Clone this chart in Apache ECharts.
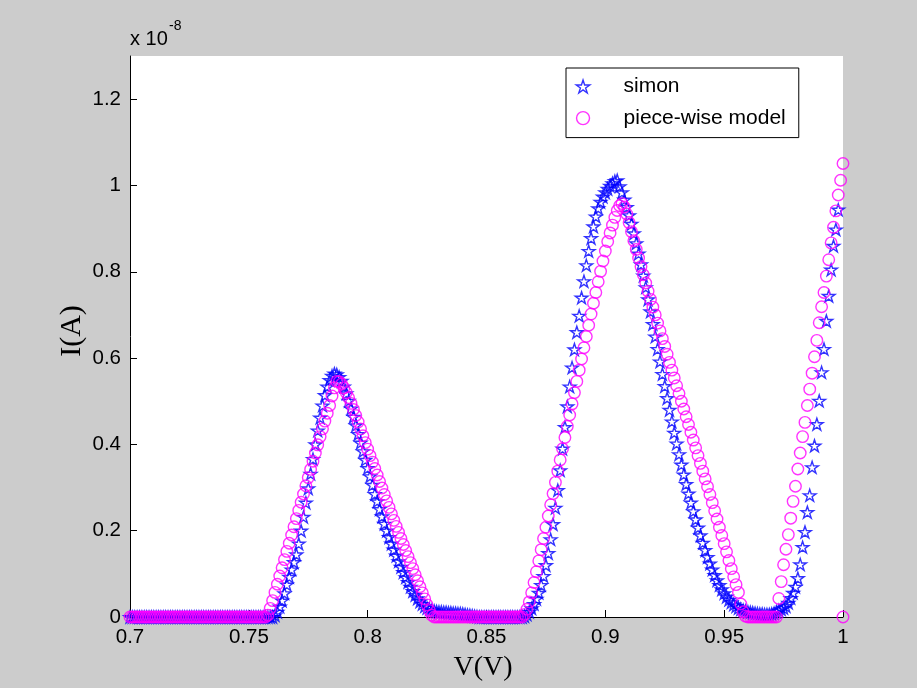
<!DOCTYPE html>
<html><head><meta charset="utf-8">
<script src="https://cdn.jsdelivr.net/npm/echarts@6/dist/echarts.min.js"></script>
<style>html,body{margin:0;padding:0;background:#cccccc}#c{width:917px;height:688px}</style>
</head><body><div id="c"></div>
<script>
// Voltage sample points (V)
const xValues = [
0.700,0.701,0.702,0.703,0.704,0.705,0.706,0.707,0.708,0.709,
0.710,0.711,0.712,0.713,0.714,0.715,0.716,0.717,0.718,0.719,
0.720,0.721,0.722,0.723,0.724,0.725,0.726,0.727,0.728,0.729,
0.730,0.731,0.732,0.733,0.734,0.735,0.736,0.737,0.738,0.739,
0.740,0.741,0.742,0.743,0.744,0.745,0.746,0.747,0.748,0.749,
0.750,0.751,0.752,0.753,0.754,0.755,0.756,0.757,0.758,0.759,
0.760,0.761,0.762,0.763,0.764,0.765,0.766,0.767,0.768,0.769,
0.770,0.771,0.772,0.773,0.774,0.775,0.776,0.777,0.778,0.779,
0.780,0.781,0.782,0.783,0.784,0.785,0.786,0.787,0.788,0.789,
0.790,0.791,0.792,0.793,0.794,0.795,0.796,0.797,0.798,0.799,
0.800,0.801,0.802,0.803,0.804,0.805,0.806,0.807,0.808,0.809,
0.810,0.811,0.812,0.813,0.814,0.815,0.816,0.817,0.818,0.819,
0.820,0.821,0.822,0.823,0.824,0.825,0.826,0.827,0.828,0.829,
0.830,0.831,0.832,0.833,0.834,0.835,0.836,0.837,0.838,0.839,
0.840,0.841,0.842,0.843,0.844,0.845,0.846,0.847,0.848,0.849,
0.850,0.851,0.852,0.853,0.854,0.855,0.856,0.857,0.858,0.859,
0.860,0.861,0.862,0.863,0.864,0.865,0.866,0.867,0.868,0.869,
0.870,0.871,0.872,0.873,0.874,0.875,0.876,0.877,0.878,0.879,
0.880,0.881,0.882,0.883,0.884,0.885,0.886,0.887,0.888,0.889,
0.890,0.891,0.892,0.893,0.894,0.895,0.896,0.897,0.898,0.899,
0.900,0.901,0.902,0.903,0.904,0.905,0.906,0.907,0.908,0.909,
0.910,0.911,0.912,0.913,0.914,0.915,0.916,0.917,0.918,0.919,
0.920,0.921,0.922,0.923,0.924,0.925,0.926,0.927,0.928,0.929,
0.930,0.931,0.932,0.933,0.934,0.935,0.936,0.937,0.938,0.939,
0.940,0.941,0.942,0.943,0.944,0.945,0.946,0.947,0.948,0.949,
0.950,0.951,0.952,0.953,0.954,0.955,0.956,0.957,0.958,0.959,
0.960,0.961,0.962,0.963,0.964,0.965,0.966,0.967,0.968,0.969,
0.970,0.971,0.972,0.973,0.974,0.975,0.976,0.977,0.978,0.979,
0.980,0.981,0.982,0.983,0.984,0.985,0.986,0.987,0.988,0.989,
0.990,0.991,0.992,0.993,0.994,0.995,0.996,0.997,0.998,0.999,
1.000
];

// "simon" current, in units of 1e-8 A (x = 0.700 ... 0.998)
const simonI = [
0,0,0,0,0,0,0,0,0,0,
0,0,0,0,0,0,0,0,0,0,
0,0,0,0,0,0,0,0,0,0,
0,0,0,0,0,0,0,0,0,0,
0,0,0,0,0,0,0,0,0,0,
0,0,0,0,0,0,0,0,0,0,
0,0.004,0.012,0.024,0.038,0.055,0.075,0.093,0.110,0.127,
0.145,0.170,0.200,0.232,0.265,0.298,0.332,0.366,0.400,0.432,
0.462,0.490,0.514,0.534,0.549,0.559,0.564,0.562,0.556,0.547,
0.534,0.518,0.501,0.483,0.464,0.444,0.424,0.404,0.384,0.364,
0.345,0.326,0.306,0.285,0.268,0.250,0.233,0.216,0.200,0.185,
0.170,0.156,0.142,0.129,0.116,0.104,0.092,0.081,0.070,0.060,
0.051,0.043,0.036,0.030,0.025,0.021,0.018,0.016,0.014,0.013,
0.012,0.012,0.011,0.011,0.010,0.010,0.009,0.009,0.008,0.008,
0.007,0.006,0.005,0.004,0.003,0.002,0.001,0,0,0,
0,0,0,0,0,0,0,0,0,0,
0,0,0,0,0,0,0.002,0.006,0.012,0.020,
0.030,0.042,0.056,0.074,0.095,0.120,0.148,0.180,0.215,0.253,
0.294,0.340,0.390,0.440,0.488,0.534,0.578,0.620,0.660,0.698,
0.740,0.778,0.815,0.848,0.878,0.905,0.928,0.947,0.962,0.974,
0.984,0.992,0.999,1.005,1.010,1.012,0.998,0.984,0.967,0.950,
0.931,0.911,0.889,0.866,0.842,0.817,0.791,0.764,0.736,0.708,
0.679,0.650,0.621,0.592,0.563,0.535,0.507,0.480,0.453,0.427,
0.402,0.377,0.353,0.330,0.308,0.286,0.265,0.245,0.226,0.207,
0.189,0.172,0.155,0.139,0.124,0.110,0.097,0.085,0.074,0.064,
0.055,0.047,0.040,0.034,0.029,0.025,0.021,0.018,0.016,0.014,
0.012,0.011,0.010,0.009,0.008,0.007,0.007,0.006,0.006,0.006,
0.007,0.009,0.012,0.015,0.018,0.021,0.025,0.033,0.044,0.056,
0.070,0.090,0.122,0.162,0.197,0.243,0.282,0.347,0.397,0.447,
0.501,0.567,0.621,0.686,0.744,0.805,0.860,0.898,0.944
];

// piece-wise model current, in units of 1e-8 A (x = 0.700 ... 1.000)
const modelI = [
0,0,0,0,0,0,0,0,0,0,
0,0,0,0,0,0,0,0,0,0,
0,0,0,0,0,0,0,0,0,0,
0,0,0,0,0,0,0,0,0,0,
0,0,0,0,0,0,0,0,0,0,
0,0,0,0,0,0,0,0,0.004,0.020,
0.038,0.057,0.076,0.095,0.114,0.133,0.152,0.171,0.190,0.209,
0.228,0.247,0.266,0.285,0.304,0.323,0.342,0.361,0.380,0.399,
0.418,0.436,0.454,0.472,0.490,0.512,0.531,0.546,0.545,0.540,
0.531,0.520,0.508,0.495,0.481,0.467,0.452,0.436,0.420,0.404,
0.389,0.374,0.359,0.344,0.329,0.314,0.299,0.284,0.269,0.254,
0.239,0.224,0.210,0.196,0.182,0.168,0.154,0.140,0.126,0.112,
0.098,0.084,0.070,0.056,0.042,0.028,0.015,0.004,0,0,
0,0,0,0,0,0,0,0,0,0,
0,0,0,0,0,0,0,0,0,0,
0,0,0,0,0,0,0,0,0,0,
0,0,0,0,0,0,0.006,0.018,0.035,0.056,
0.080,0.105,0.130,0.156,0.182,0.208,0.234,0.260,0.286,0.312,
0.338,0.364,0.390,0.416,0.442,0.468,0.494,0.520,0.546,0.572,
0.598,0.624,0.650,0.676,0.702,0.727,0.752,0.777,0.801,0.825,
0.848,0.870,0.890,0.908,0.926,0.942,0.953,0.958,0.950,0.934,
0.914,0.893,0.872,0.852,0.832,0.812,0.793,0.774,0.755,0.736,
0.718,0.700,0.681,0.663,0.645,0.627,0.609,0.590,0.572,0.554,
0.536,0.518,0.500,0.482,0.464,0.446,0.428,0.410,0.392,0.374,
0.356,0.338,0.320,0.302,0.284,0.265,0.246,0.227,0.208,0.189,
0.170,0.151,0.131,0.112,0.093,0.075,0.057,0.030,0.012,0.002,
0,0,0,0,0,0,0,0,0,0,
0,0,0,0.043,0.082,0.121,0.157,0.191,0.229,0.268,
0.303,0.343,0.380,0.418,0.451,0.490,0.528,0.565,0.603,0.641,
0.682,0.719,0.752,0.790,0.828,0.867,0.903,0.941,0.978,1.012,
1.051
];
// final model sample drawn at the axis end
const modelExtraX = [1.0];
const modelExtraY = [0];

const seriesNames = ['simon', 'piece-wise model'];
const xTickValues = [0.7, 0.75, 0.8, 0.85, 0.9, 0.95, 1];
const xTickLabels = ['0.7', '0.75', '0.8', '0.85', '0.9', '0.95', '1'];
const yTickValues = [0, 0.2, 0.4, 0.6, 0.8, 1, 1.2];
const yTickLabels = ['0', '0.2', '0.4', '0.6', '0.8', '1', '1.2'];

const STAR = 'path://M100,0 L122.45,69.1 L195.1,69.1 L136.33,111.8 L158.78,180.9 L100,138.2 L41.22,180.9 L63.67,111.8 L4.9,69.1 L77.55,69.1 Z';
const BLUE = '#0000ff';
const MAGENTA = '#ff00ff';

function labelFor(v, vals, labs) {
  let best = 0, bd = Infinity;
  for (let i = 0; i < vals.length; i++) { const d = Math.abs(vals[i] - v); if (d < bd) { bd = d; best = i; } }
  return bd < 1e-6 ? labs[best] : '';
}

const simonData = simonI.map((y, i) => [xValues[i], y]);
const modelData = modelI.map((y, i) => [xValues[i], y]).concat(modelExtraX.map((x, i) => [x, modelExtraY[i]]));

const chart = echarts.init(document.getElementById('c'), null, { renderer: 'canvas' });
const tickFont = { color: '#000', fontSize: 20.5, fontFamily: '"Liberation Sans", Arial, sans-serif' };
chart.setOption({
  animation: false,
  backgroundColor: '#cccccc',
  grid: { left: 130, top: 56, right: 74, bottom: 71, show: true, backgroundColor: '#ffffff', borderWidth: 0 },
  xAxis: {
    type: 'value', min: 0.7, max: 1,
    axisLine: { show: true, onZero: false, lineStyle: { color: '#000', width: 1 } },
    axisTick: { show: true, inside: true, length: 7, customValues: xTickValues, lineStyle: { color: '#000', width: 1 } },
    axisLabel: Object.assign({ customValues: xTickValues, margin: 10, formatter: v => labelFor(v, xTickValues, xTickLabels) }, tickFont),
    splitLine: { show: false }
  },
  yAxis: {
    type: 'value', min: 0, max: 1.3,
    axisLine: { show: true, onZero: false, lineStyle: { color: '#000', width: 1 } },
    axisTick: { show: true, inside: true, length: 7, customValues: yTickValues, lineStyle: { color: '#000', width: 1 } },
    axisLabel: Object.assign({ customValues: yTickValues, margin: 9, formatter: v => labelFor(v, yTickValues, yTickLabels) }, tickFont),
    splitLine: { show: false }
  },
  legend: {
    orient: 'vertical', left: 566, top: 68,
    padding: [8, 13, 9, 9.5],
    itemWidth: 71, itemHeight: 13, itemGap: 10.6,
    backgroundColor: '#ffffff', borderColor: '#000', borderWidth: 1, borderRadius: 0,
    selectedMode: false,
    textStyle: { color: '#000', fontSize: 21, fontFamily: '"Liberation Sans", Arial, sans-serif' },
    data: [
      { name: seriesNames[0], icon: STAR, itemStyle: { color: 'rgba(0,0,0,0)', borderColor: BLUE, borderWidth: 1.4 } },
      { name: seriesNames[1], icon: 'circle', itemStyle: { color: 'rgba(0,0,0,0)', borderColor: MAGENTA, borderWidth: 1.4 } }
    ]
  },
  graphic: [
    { type: 'text', x: 130, y: 39, style: { text: 'x 10', fill: '#000', font: '20px "Liberation Sans", Arial, sans-serif', align: 'left', verticalAlign: 'middle' } },
    { type: 'text', x: 169, y: 26, style: { text: '-8', fill: '#000', font: '14px "Liberation Sans", Arial, sans-serif', align: 'left', verticalAlign: 'middle' } },
    { type: 'text', x: 72, y: 331, rotation: Math.PI / 2, style: { text: 'I(A)', fill: '#000', font: '30px "Liberation Serif", "Times New Roman", serif', align: 'center', verticalAlign: 'middle' } },
    { type: 'text', x: 483, y: 668, style: { text: 'V(V)', fill: '#000', font: '28px "Liberation Serif", "Times New Roman", serif', align: 'center', verticalAlign: 'middle' } }
  ],
  series: [
    {
      type: 'scatter', name: seriesNames[0], data: simonData, clip: false,
      symbol: STAR, symbolSize: 12.5, symbolKeepAspect: true,
      itemStyle: { color: 'rgba(0,0,0,0)', borderColor: BLUE, borderWidth: 1.4 },
      emphasis: { disabled: true }, silent: true
    },
    {
      type: 'scatter', name: seriesNames[1], data: modelData, clip: false,
      symbol: 'circle', symbolSize: 11.5,
      itemStyle: { color: 'rgba(0,0,0,0)', borderColor: MAGENTA, borderWidth: 1.4 },
      emphasis: { disabled: true }, silent: true
    }
  ]
});
</script>
</body></html>
